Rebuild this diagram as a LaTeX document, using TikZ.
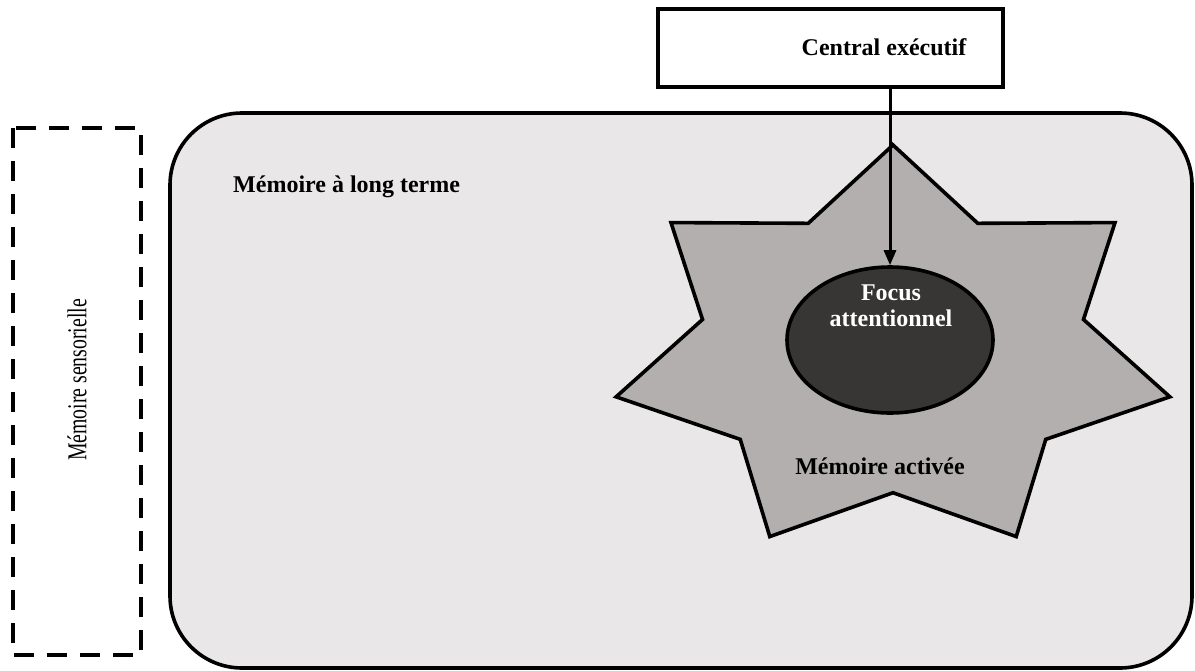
\documentclass[tikz,border=0pt]{standalone}
\usepackage{fontspec}
\setmainfont{Liberation Serif}
\usetikzlibrary{shapes.geometric,arrows.meta}
\definecolor{ltmfill}{HTML}{E9E7E7}
\definecolor{starfill}{HTML}{B2AFAE}
\definecolor{focusfill}{HTML}{383635}
\tikzset{
  outline/.style={draw=black, line width=3.6pt},
  ltmbox/.style={outline, fill=ltmfill, rounded corners=72pt},
  sensbox/.style={draw=black, line width=3.6pt, dash pattern=on 20pt off 13pt},
  cebox/.style={outline, fill=white, rectangle, minimum width=345pt, minimum height=78pt, inner sep=0pt},
  starshape/.style={outline, fill=starfill, line join=miter},
  focusnode/.style={outline, fill=focusfill, ellipse, minimum width=206pt, minimum height=146pt, inner sep=0pt},
  lbl/.style={font=\fontsize{24}{26}\selectfont\bfseries, inner sep=0pt},
  wlbl/.style={lbl, text=white, align=center},
  arrowline/.style={draw=black, line width=3pt, -{Triangle[length=15pt,width=12pt]}}
}
\begin{document}
\begin{tikzpicture}[x=1pt, y=-1pt]
\useasboundingbox (0,0) rectangle (1195,670);
% long-term memory
\draw[ltmbox] (170,113) rectangle (1192,668);
\node[lbl, anchor=west] (ltm) at (233,187) {Mémoire à long terme};
% sensory memory
\draw[sensbox] (13,128) rectangle (141,655);
\node[font=\fontsize{21}{24}\selectfont, inner sep=0pt, rotate=90] (sens) at (77,380) {\scalebox{0.94}[1.3]{Mémoire sensorielle}};
% activated memory star
\begin{scope}[shift={(893,351)}, x=284pt, y=206pt]
  \draw[starshape] (90:1) \foreach \k in {1,...,7} { -- ({90-\k*51.4286+25.7143}:0.688) -- ({90-\k*51.4286}:1) } -- cycle;
\end{scope}
\node[lbl] (act) at (880,466) {Mémoire activée};
% focus
\node[focusnode] (focus) at (890,340) {};
\node[wlbl] (focuslbl) at (891,306) {Focus\\attentionnel};
% central executive
\node[cebox] (ce) at (830.5,48) {};
\node[lbl] (celbl) at (884,47) {Central exécutif};
\draw[arrowline] (ce.south -| focus.north) -- (focus.north);
\end{tikzpicture}
\end{document}
